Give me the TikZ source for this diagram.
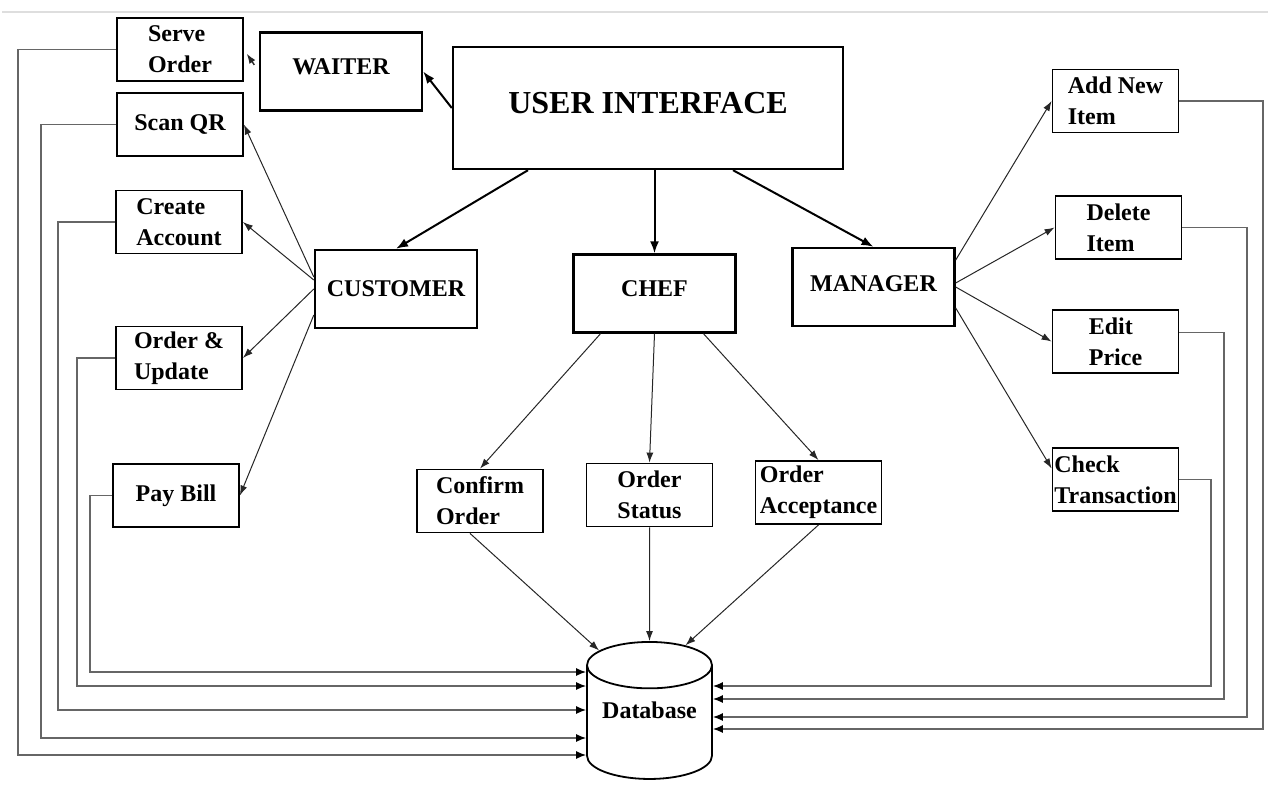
\documentclass[tikz,border=0pt]{standalone}
\usepackage{fontspec}
\setmainfont{Liberation Serif}
\usepackage{tikz}
\usetikzlibrary{shapes.geometric}
\usetikzlibrary{arrows.meta}

\tikzset{
    role/.style={draw,line width=2.4pt,inner sep=0pt,minimum width=162pt,minimum height=78pt,font=\bfseries\fontsize{24}{31}\selectfont},
    task/.style={draw,line width=1.8pt,inner sep=0pt,align=left,minimum width=126pt,minimum height=63pt,font=\bfseries\fontsize{24}{31}\selectfont},
    store/.style={cylinder,shape border rotate=90,draw,line width=1.8pt,inner sep=0pt,aspect=0.49,minimum width=125pt,minimum height=137pt,font=\bfseries\fontsize{24}{31}\selectfont},
    main/.style={line width=2pt,-{Latex[length=12pt,width=9pt]}},
    link/.style={line width=1pt,black!85,-{Latex[length=10pt,width=7pt]}},
    feed/.style={draw=black!60,line width=1.3pt,-{Latex[length=10pt,width=8pt,color=black]}}
}

\begin{document}
\begin{tikzpicture}[x=1pt,y=-1pt]
                    \useasboundingbox (0,0) rectangle (1268,786);
                    \draw[black!13,line width=2pt] (2,12) -- (1268,12);

                    \node[draw,line width=2.4pt,inner sep=0pt,minimum width=390pt,minimum height=122pt,text depth=10pt,font=\bfseries\fontsize{32}{36}\selectfont] (ui) at (648,108) {USER INTERFACE};
                    \node[role,text depth=9pt] (waiter) at (341,71.5) {WAITER};
                    \node[role] (customer) at (396,289) {CUSTOMER};
                    \node[role,text depth=9pt] (chef) at (654.5,293.5) {CHEF};
                    \node[role,text depth=6pt] (manager) at (873.5,287) {MANAGER};

                    \node[task] (serve) at (180,49.5) {Serve\\Order};
                    \node[task] (scan) at (180,124.5) {Scan QR};
                    \node[task] (create) at (179,222) {Create\\Account};
                    \node[task] (update) at (179,358) {Order \&\\Update};
                    \node[task] (pay) at (176,495.5) {Pay Bill};

                    \node[task] (confirm) at (480,501) {Confirm\\Order};
                    \node[task] (status) at (649.5,495) {Order\\Status};
                    \node[task] (accept) at (818.5,492.5) {Order\\Acceptance};

                    \node[task] (additem) at (1115.5,101) {Add New\\Item};
                    \node[task] (delitem) at (1118.5,227.5) {Delete\\Item};
                    \node[task] (price) at (1115.5,341.5) {Edit\\Price};
                    \node[task] (check) at (1115.5,479.5) {Check\\Transaction};

                    \node[store,text depth=24pt] (db) at (649.5,722.5) {Database};

                    \draw[main] (ui.west) -- (waiter.east);
                    \draw[main] ([xshift=-120pt]ui.south) -- (customer.north);
                    \draw[main] (ui.south -| chef.north) -- (chef.north);
                    \draw[main] ([xshift=85pt]ui.south) -- (manager.north);
                    \draw[link,line width=1.4pt,shorten <=8pt,shorten >=5pt] (waiter.west) -- (serve.east);

                    \draw[link] ([yshift=12pt]customer.west) -- (scan.east);
                    \draw[link] ([yshift=9pt]customer.west) -- (create.east);
                    \draw[link] (customer.west) -- (update.east);
                    \draw[link] ([yshift=-26pt]customer.west) -- (pay.east);

                    \draw[link] ([xshift=-54pt]chef.south) -- (confirm.north);
                    \draw[link] (chef.south) -- (status.north);
                    \draw[link] ([xshift=49pt]chef.south) -- (accept.north);
                    \draw[link] ([xshift=-10pt]confirm.south) -- (db.125);
                    \draw[link] (status.south) -- (db.north);
                    \draw[link] (accept.south) -- (db.65);

                    \draw[link] ([yshift=27pt]manager.east) -- (additem.west);
                    \draw[link] ([yshift=4pt]manager.east) -- (delitem.west);
                    \draw[link] (manager.east) -- (price.west);
                    \draw[link] ([yshift=-21pt]manager.east) -- ([yshift=11pt]check.west);

                    \draw[feed] (serve.west) -| (18,755) -- (db.west |- 0,755);
                    \draw[feed] (scan.west) -| (41,738) -- (db.west |- 0,738);
                    \draw[feed] (create.west) -| (58,710) -- (db.west |- 0,710);
                    \draw[feed] (update.west) -| (77,686) -- (db.west |- 0,686);
                    \draw[feed] (pay.west) -| (90,672) -- (db.west |- 0,672);

                    \draw[feed] (additem.east) -| (1263,729) -- (db.east |- 0,729);
                    \draw[feed] (delitem.east) -| (1247,717) -- (db.east |- 0,717);
                    \draw[feed] ([yshift=9pt]price.east) -| (1224,699) -- (db.east |- 0,699);
                    \draw[feed] (check.east) -| (1211,686) -- (db.east |- 0,686);
                \end{tikzpicture}
\end{document}
